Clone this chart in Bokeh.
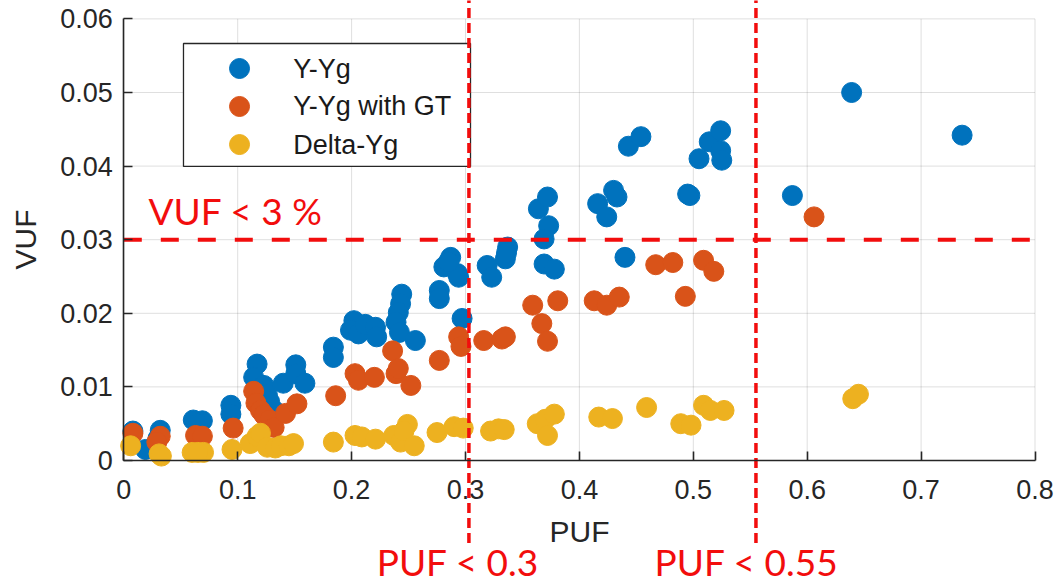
from bokeh.plotting import figure
from bokeh.models import Range1d, Label, FixedTicker
from bokeh.core.properties import value
from bokeh.embed import file_html
from bokeh.resources import INLINE

# ---------------- data ----------------
yyg_puf = [0.008, 0.019, 0.032, 0.030, 0.061, 0.069, 0.065, 0.094, 0.094,
           0.117, 0.114, 0.123, 0.126, 0.132, 0.128, 0.140, 0.151, 0.151, 0.159,
           0.184, 0.184, 0.202, 0.199, 0.206, 0.212, 0.221, 0.222, 0.244, 0.243,
           0.241, 0.239, 0.242, 0.256,
           0.277, 0.277, 0.287, 0.281, 0.293, 0.294, 0.297, 0.285,
           0.319, 0.323, 0.335, 0.337, 0.336,
           0.364, 0.372, 0.373, 0.369, 0.369, 0.378,
           0.416, 0.424, 0.430, 0.433, 0.440, 0.443, 0.454,
           0.495, 0.497, 0.505, 0.514, 0.524, 0.524, 0.525,
           0.587, 0.639, 0.736]
yyg_vuf = [0.0040, 0.0015, 0.0041, 0.0030, 0.0055, 0.0054, 0.0050, 0.0075, 0.0063,
           0.0131, 0.0113, 0.0102, 0.0090, 0.0068, 0.0080, 0.0105, 0.0130, 0.0118, 0.0105,
           0.0154, 0.0140, 0.0190, 0.0177, 0.0172, 0.0185, 0.0181, 0.0168, 0.0226, 0.0213,
           0.0201, 0.0188, 0.0174, 0.0163,
           0.0231, 0.0220, 0.0276, 0.0263, 0.0254, 0.0249, 0.0193, 0.0270,
           0.0265, 0.0249, 0.0274, 0.0290, 0.0282,
           0.0342, 0.0358, 0.0319, 0.0301, 0.0267, 0.0260,
           0.0349, 0.0331, 0.0367, 0.0358, 0.0276, 0.0427, 0.0440,
           0.0362, 0.0360, 0.0410, 0.0433, 0.0448, 0.0421, 0.0408,
           0.0360, 0.0500, 0.0442]

gt_puf = [0.008, 0.032, 0.029, 0.063, 0.069, 0.096,
          0.114, 0.116, 0.120, 0.123, 0.128, 0.132, 0.142, 0.152,
          0.186, 0.203, 0.206, 0.220, 0.236, 0.239, 0.241, 0.252,
          0.277, 0.294, 0.296, 0.316, 0.332, 0.335,
          0.359, 0.367, 0.372, 0.381,
          0.413, 0.424, 0.435,
          0.467, 0.482, 0.493, 0.509, 0.518,
          0.606]
gt_vuf = [0.0037, 0.0033, 0.0025, 0.0034, 0.0033, 0.0044,
          0.0094, 0.0078, 0.0068, 0.0062, 0.0055, 0.0045, 0.0064, 0.0077,
          0.0088, 0.0118, 0.0109, 0.0113, 0.0149, 0.0118, 0.0125, 0.0102,
          0.0136, 0.0168, 0.0155, 0.0163, 0.0165, 0.0168,
          0.0211, 0.0186, 0.0162, 0.0217,
          0.0217, 0.0211, 0.0222,
          0.0266, 0.0269, 0.0223, 0.0272, 0.0257,
          0.0331]

delta_puf = [0.006, 0.031, 0.033, 0.060, 0.070, 0.065, 0.095,
             0.111, 0.117, 0.120, 0.126, 0.133, 0.138, 0.145, 0.149,
             0.184, 0.203, 0.209, 0.221, 0.237, 0.243, 0.249, 0.246, 0.255,
             0.275, 0.290, 0.298, 0.322, 0.329, 0.334,
             0.363, 0.370, 0.378, 0.372,
             0.417, 0.429, 0.459,
             0.489, 0.498, 0.509, 0.515, 0.527,
             0.640, 0.645]
delta_vuf = [0.0020, 0.0009, 0.0006, 0.0011, 0.0011, 0.0011, 0.0015,
             0.0023, 0.0033, 0.0037, 0.0018, 0.0017, 0.0020, 0.0020, 0.0023,
             0.0025, 0.0034, 0.0032, 0.0029, 0.0034, 0.0025, 0.0049, 0.0040, 0.0020,
             0.0038, 0.0046, 0.0044, 0.0040, 0.0043, 0.0042,
             0.0050, 0.0056, 0.0063, 0.0034,
             0.0059, 0.0057, 0.0072,
             0.0050, 0.0048, 0.0075, 0.0068, 0.0068,
             0.0084, 0.0090]

series_names = ["Y-Yg", "Y-Yg with GT", "Delta-Yg"]
series_colors = ["#0072BD", "#D95319", "#EDB120"]

x_ticks = [0, 0.1, 0.2, 0.3, 0.4, 0.5, 0.6, 0.7, 0.8]
x_tick_labels = ["0", "0.1", "0.2", "0.3", "0.4", "0.5", "0.6", "0.7", "0.8"]
y_ticks = [0, 0.01, 0.02, 0.03, 0.04, 0.05, 0.06]
y_tick_labels = ["0", "0.01", "0.02", "0.03", "0.04", "0.05", "0.06"]

vuf_limit = 0.03
vuf_limit_text = "VUF < 3 %"
puf_line_pos = [0.303, 0.555]
puf_limit_texts = ["PUF < 0.3", "PUF < 0.55"]

# ---------------- layout constants ----------------
X0, X1 = x_ticks[0], x_ticks[-1]
Y0, Y1 = y_ticks[0], y_ticks[-1]
# visible window (the whole canvas is the frame; axes are fixed at 0)
XR = (-0.10825, 0.81799)
YR = (-0.016984, 0.0625)

AX = "#262626"
TICK_FONT = "Liberation Sans"
RED = "#f20d0d"

p = figure(width=1055, height=585, output_backend="svg", toolbar_location=None,
           x_range=Range1d(*XR), y_range=Range1d(*YR),
           min_border=0, min_border_left=0, min_border_right=0,
           min_border_top=0, min_border_bottom=0)
p.background_fill_color = "white"
p.border_fill_color = "white"
p.outline_line_color = None
p.grid.visible = False

# grid lines (light), bounded to the axes box
p.segment(x0=x_ticks, x1=x_ticks, y0=[Y0] * len(x_ticks), y1=[Y1] * len(x_ticks),
          line_color=AX, line_alpha=0.15, line_width=1)
p.segment(x0=[X0] * len(y_ticks), x1=[X1] * len(y_ticks), y0=y_ticks, y1=y_ticks,
          line_color=AX, line_alpha=0.15, line_width=1)

for ax, ticks, labels, bnds in ((p.xaxis[0], x_ticks, x_tick_labels, (X0, X1)),
                                (p.yaxis[0], y_ticks, y_tick_labels, (Y0, Y1))):
    ax.fixed_location = 0
    ax.bounds = bnds
    ax.ticker = FixedTicker(ticks=ticks)
    ax.major_label_overrides = {t: l for t, l in zip(ticks, labels)}
    ax.axis_line_color = AX
    ax.axis_line_width = 1.6
    ax.major_tick_line_color = AX
    ax.major_tick_line_width = 1.6
    ax.major_tick_in = 9
    ax.major_tick_out = 0
    ax.minor_tick_line_color = None
    ax.major_label_text_font = TICK_FONT
    ax.major_label_text_font_size = "27px"
    ax.major_label_text_color = AX
    ax.axis_label_text_font = TICK_FONT
    ax.axis_label_text_font_size = "30px"
    ax.axis_label_text_font_style = "normal"
    ax.axis_label_text_color = AX

p.xaxis.axis_label = "PUF"
p.yaxis.axis_label = "VUF"
p.xaxis.major_label_standoff = 20
p.yaxis.major_label_standoff = 11
p.xaxis.axis_label_standoff = 12
p.yaxis.axis_label_standoff = 15

for xs, ys, col in ((yyg_puf, yyg_vuf, series_colors[0]),
                    (gt_puf, gt_vuf, series_colors[1]),
                    (delta_puf, delta_vuf, series_colors[2])):
    p.scatter(xs, ys, size=20, fill_color=col, line_color=col)

# legend box (drawn like MATLAB's legend)
LEG_L, LEG_R, LEG_B, LEG_T = 0.0524, 0.3044, 0.03995, 0.05666
leg_rows_y = [0.05326, 0.0481, 0.04293]
leg_marker_x = 0.1016
leg_text_x = 0.1488
p.quad(left=[LEG_L], right=[LEG_R], bottom=[LEG_B], top=[LEG_T],
       fill_color="white", line_color=AX, line_width=1.3)
p.scatter([leg_marker_x] * 3, leg_rows_y, size=20, fill_color=series_colors,
          line_color=series_colors)
p.text(x=[leg_text_x] * 3, y=leg_rows_y, text=series_names,
       text_font=value(TICK_FONT), text_font_size=value("27px"),
       text_color="#1a1a1a", text_baseline="middle", text_align="left")

# threshold lines
p.segment(x0=[X0], x1=[X1], y0=[vuf_limit], y1=[vuf_limit],
          line_color=RED, line_width=4, line_dash="18 19")
p.segment(x0=puf_line_pos, x1=puf_line_pos, y0=[-0.0112] * 2, y1=[0.0626] * 2,
          line_color=RED, line_width=3.5, line_dash="10 5")

p.add_layout(Label(x=0.0217, y=0.0339, text=vuf_limit_text, text_font="Lato",
                   text_font_size="37px", text_color=RED, text_baseline="alphabetic"))
for xpos, txt in zip([0.222, 0.466], puf_limit_texts):
    p.add_layout(Label(x=xpos, y=-0.0137, text=txt, text_font="Lato",
                       text_font_size="37px", text_color=RED, text_baseline="alphabetic"))

open("out.html", "w").write(file_html(p, INLINE))
